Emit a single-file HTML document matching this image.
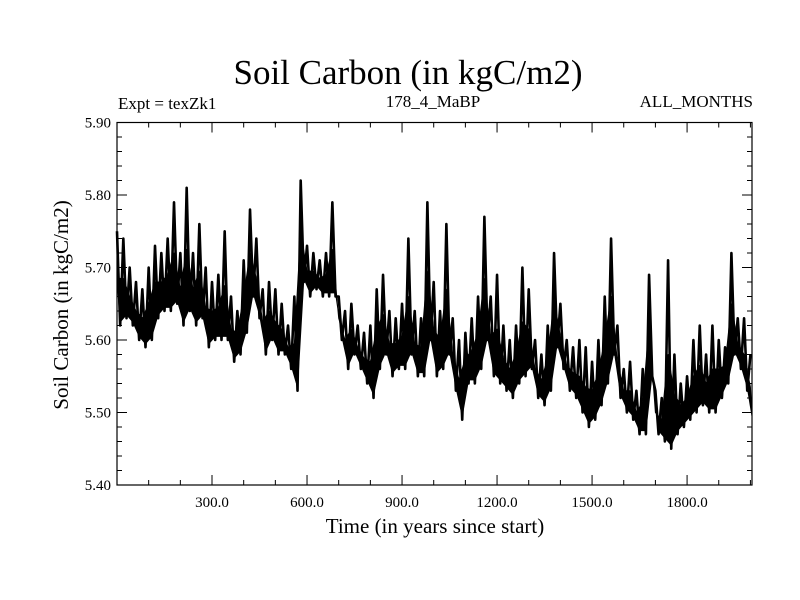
<!DOCTYPE html>
<html><head><meta charset="utf-8"><style>
body{margin:0;background:#fff;}
svg{display:block;font-family:"Liberation Serif",serif;}
</style></head><body>
<svg id="chart" width="800" height="600">
<text x="408" y="84" font-size="35" text-anchor="middle">Soil Carbon (in kgC/m2)</text>
<text x="118" y="109" font-size="17">Expt = texZk1</text>
<text x="433" y="107" font-size="17" text-anchor="middle">178_4_MaBP</text>
<text x="753" y="107" font-size="17" text-anchor="end">ALL_MONTHS</text>
<text x="435" y="533" font-size="21" text-anchor="middle">Time (in years since start)</text>
<text transform="translate(68,305) rotate(-90)" font-size="21" text-anchor="middle">Soil Carbon (in kgC/m2)</text>
<g id="axes"></g>
<g id="series"></g>
</svg>
<script>
const yTickLabels = ["5.40","5.50","5.60","5.70","5.80","5.90"];
const xTickLabels = ["300.0","600.0","900.0","1200.0","1500.0","1800.0"];
const upper = [5.75,5.74,5.70,5.68,5.67,5.70,5.73,5.72,5.74,5.79,5.72,5.81,5.72,5.76,5.70,5.68,5.69,5.75,5.66,5.64,5.71,5.78,5.74,5.67,5.68,5.67,5.65,5.62,5.66,5.82,5.73,5.72,5.71,5.72,5.79,5.66,5.64,5.65,5.62,5.61,5.62,5.67,5.69,5.64,5.63,5.65,5.74,5.64,5.63,5.79,5.68,5.64,5.76,5.63,5.60,5.61,5.63,5.66,5.77,5.66,5.69,5.62,5.60,5.62,5.70,5.67,5.60,5.58,5.62,5.72,5.65,5.60,5.59,5.60,5.59,5.57,5.60,5.66,5.74,5.62,5.56,5.57,5.53,5.56,5.69,5.53,5.52,5.71,5.58,5.54,5.55,5.60,5.62,5.58,5.62,5.60,5.59,5.72,5.63,5.63,5.58];
const lower = [5.62,5.63,5.62,5.60,5.59,5.60,5.63,5.64,5.64,5.65,5.62,5.64,5.62,5.63,5.59,5.60,5.60,5.60,5.57,5.58,5.61,5.66,5.63,5.58,5.60,5.58,5.58,5.56,5.53,5.68,5.66,5.67,5.66,5.66,5.66,5.60,5.56,5.58,5.56,5.54,5.52,5.56,5.58,5.55,5.56,5.56,5.58,5.55,5.55,5.60,5.55,5.56,5.58,5.53,5.49,5.54,5.54,5.56,5.60,5.55,5.54,5.53,5.52,5.54,5.55,5.56,5.52,5.51,5.53,5.59,5.56,5.53,5.52,5.50,5.48,5.49,5.51,5.54,5.58,5.52,5.50,5.49,5.47,5.47,5.55,5.47,5.46,5.45,5.47,5.48,5.49,5.50,5.51,5.50,5.50,5.52,5.54,5.58,5.56,5.53,5.49];
const stepYears = 20;
const X0=117,X1=752,Y0=485,Y1=122.5;
const xMin=0,xMax=2005,yMin=5.40,yMax=5.90;
const sx=v=>X0+(v-xMin)/(xMax-xMin)*(X1-X0);
const sy=v=>Y0-(v-yMin)/(yMax-yMin)*(Y0-Y1);
const NS="http://www.w3.org/2000/svg";
const axes=document.getElementById('axes');
function mk(tag,attrs,parent){const e=document.createElementNS(NS,tag);for(const k in attrs)e.setAttribute(k,attrs[k]);parent.appendChild(e);return e;}
const frame=mk('rect',{x:X0,y:Y1,width:X1-X0,height:Y0-Y1,fill:'none',stroke:'#000','stroke-width':1.2},axes);


for(let yr=100;yr<xMax;yr+=100){const major=yr%300===0;const L=major?10:5;const x=sx(yr);
 const t1=mk('line',{x1:x,x2:x,y1:Y0,y2:Y0-L,stroke:'#000'},axes);
 
 
 const t2=mk('line',{x1:x,x2:x,y1:Y1,y2:Y1+L,stroke:'#000'},axes);
 
 }
xTickLabels.forEach(s=>{const t=mk('text',{x:sx(parseFloat(s)),y:Y0+22,'font-size':15,'text-anchor':'middle'},axes);t.textContent=s;
 
 });
for(let i=1;i<25;i++){const v=yMin+i*0.02;const major=i%5===0;const L=major?10:5;const y=sy(v);
 const t1=mk('line',{x1:X0,x2:X0+L,y1:y,y2:y,stroke:'#000'},axes);
 
 
 const t2=mk('line',{x1:X1,x2:X1-L,y1:y,y2:y,stroke:'#000'},axes);
 
 }
yTickLabels.forEach(s=>{const t=mk('text',{x:X0-6,y:sy(parseFloat(s))+5,'font-size':15,'text-anchor':'end'},axes);t.textContent=s;
 
 });
const seriesG=document.getElementById('series');
const topPts=[],botPts=[];
upper.forEach((u,i)=>{const yr=i*stepYears;const mid=(u+lower[i])/2;topPts.push(sx(yr)+','+sy(mid));botPts.push(sx(Math.min(yr+stepYears/2,xMax))+','+sy(lower[i]+0.005));});
const band=mk('polygon',{points:topPts.concat(botPts.slice().reverse()).join(' '),fill:'#000',stroke:'#000','stroke-width':1,'stroke-linejoin':'round'},seriesG);


const pts=[];
upper.forEach((u,i)=>{const yr=i*stepYears;pts.push(sx(yr)+','+sy(u));if(yr+stepYears/2<=xMax)pts.push(sx(yr+stepYears/2)+','+sy(lower[i]));});
const line=mk('polyline',{points:pts.join(' '),fill:'none',stroke:'#000','stroke-width':2.6,'stroke-linejoin':'round'},seriesG);


</script>
</body></html>
